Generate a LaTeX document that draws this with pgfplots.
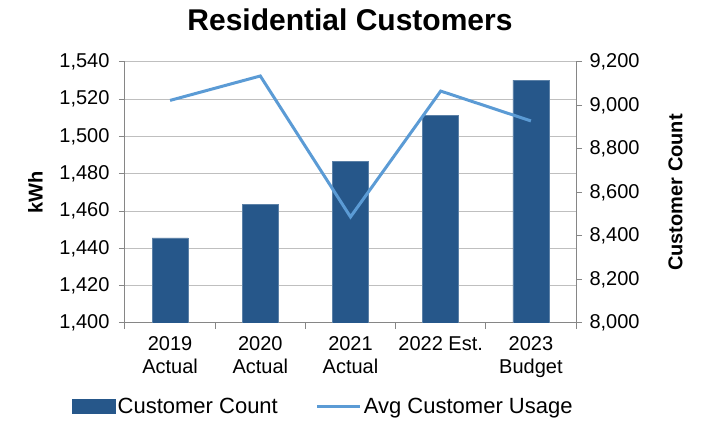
\documentclass[border=0pt]{standalone}
\usepackage{pgfplots}
\pgfplotsset{compat=1.18}
\usepackage{pgfplotstable}
\usepackage{fontspec}
\setmainfont{Liberation Sans}
\definecolor{barblue}{HTML}{26578A}
\definecolor{lineblue}{HTML}{5B9BD5}
\definecolor{gridgray}{HTML}{BFBFBF}
\definecolor{axisgray}{HTML}{868686}
\pgfplotstableread{
x count usage
0 8391 1519.4
1 8546 1532.5
2 8743 1456.9
3 8953 1524.4
4 9117 1508.4
}\data
\begin{document}
\begin{tikzpicture}
\useasboundingbox (-125pt,-99pt) rectangle (584pt,323pt);
\pgfplotsset{
  common/.style={
    at={(0pt,0pt)}, anchor=south west, scale only axis,
    width=451pt, height=261pt,
    xmin=-0.5, xmax=4.5,
    ticklabel style={font=\fontsize{20}{23}\selectfont, text=black},
    label style={font=\bfseries\fontsize{20}{24}\selectfont},
    /pgf/number format/1000 sep={,},
    /pgf/number format/assume math mode=true,
    axis line style={axisgray, line width=1pt},
    major tick style={axisgray, line width=1pt},
    tick align=outside, major tick length=6pt,
  }
}
% left axis with grid and category labels
\begin{axis}[common,
  ymin=1400, ymax=1540, ytick={1400,1420,...,1540},
  ymajorgrids, grid style={gridgray, line width=1pt},
  axis y line*=left, axis x line*=bottom,
  xtick={-0.5,0.5,1.5,2.5,3.5,4.5}, xticklabels={},
  extra x ticks={0,1,2,3,4},
  extra x tick labels={{2019\\Actual},{2020\\Actual},{2021\\Actual},{2022 Est.\\\strut},{2023\\Budget}},
  extra x tick style={major tick length=0pt, xticklabel style={align=center, yshift=-10pt}},
  xticklabel style={align=center},
  yticklabel style={xshift=-6pt},
  ylabel={kWh},
  ylabel style={xshift=0pt, yshift=10pt},
]
\end{axis}
% right axis with bars
\begin{axis}[common,
  ymin=8000, ymax=9200, ytick={8000,8200,...,9200},
  axis y line*=right, axis x line=none,
  yticklabel style={xshift=4pt},
  ylabel={Customer Count},
  ylabel style={yshift=-22pt},
]
\addplot[ybar, bar width=36pt, fill=barblue, draw=barblue!75!white, line width=0.6pt] table[x=x,y=count]{\data};
\end{axis}
% line on left scale
\begin{axis}[common,
  ymin=1400, ymax=1540, hide axis,
  legend columns=2,
  legend style={draw=none, fill=none, at={(0.44,-0.32)}, anchor=center,
    font=\fontsize{22}{26}\selectfont,
    nodes={inner sep=2pt},
    /tikz/every even column/.append style={column sep=36pt}},
]
\addlegendimage{legend image code/.code={\fill[barblue] (0pt,-7pt) rectangle (43pt,7pt);}}
\addlegendentry{Customer Count}
\addplot[lineblue, line width=3pt, mark=none, legend image code/.code={\draw[lineblue, line width=3pt] (0pt,0pt) -- (43pt,0pt);}] table[x=x,y=usage]{\data};
\addlegendentry{Avg Customer Usage}
\end{axis}
\node[font=\bfseries\fontsize{30}{36}\selectfont] at (225pt,303pt) {Residential Customers};
\end{tikzpicture}
\end{document}
